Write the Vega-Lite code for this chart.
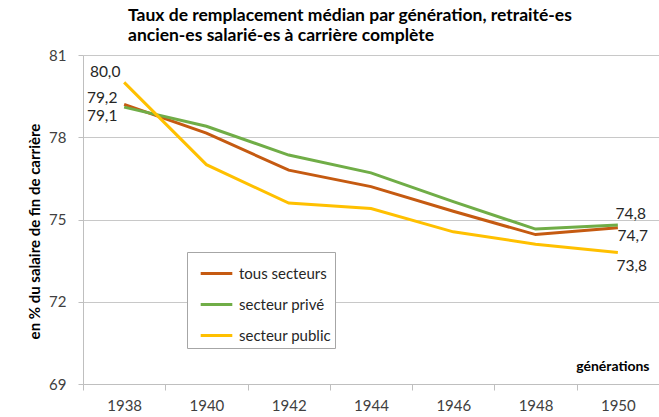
{
  "$schema": "https://vega.github.io/schema/vega-lite/v6.json",
  "width": 576,
  "height": 329,
  "autosize": {"type": "none"},
  "padding": {"left": 83, "top": 55, "right": 0, "bottom": 33},
  "background": "white",
  "config": {
    "font": "Lato",
    "view": {"stroke": null},
    "locale": {"number": {"decimal": ",", "thousands": " ", "grouping": [3], "currency": ["", " €"]}}
  },
  "title": {
    "text": ["Taux de remplacement médian par génération, retraité-es", "ancien-es salarié-es à carrière complète"],
    "anchor": "start",
    "frame": "group",
    "dx": 45,
    "fontSize": 17.5,
    "fontWeight": "bold",
    "font": "Lato",
    "color": "#000000",
    "lineHeight": 20,
    "offset": 4
  },
  "data": {
    "values": [
      {"gen": "1938", "serie": "tous secteurs", "value": 79.2},
      {"gen": "1940", "serie": "tous secteurs", "value": 78.15},
      {"gen": "1942", "serie": "tous secteurs", "value": 76.8},
      {"gen": "1944", "serie": "tous secteurs", "value": 76.2},
      {"gen": "1946", "serie": "tous secteurs", "value": 75.3},
      {"gen": "1948", "serie": "tous secteurs", "value": 74.45},
      {"gen": "1950", "serie": "tous secteurs", "value": 74.7},
      {"gen": "1938", "serie": "secteur privé", "value": 79.1},
      {"gen": "1940", "serie": "secteur privé", "value": 78.4},
      {"gen": "1942", "serie": "secteur privé", "value": 77.35},
      {"gen": "1944", "serie": "secteur privé", "value": 76.7},
      {"gen": "1946", "serie": "secteur privé", "value": 75.65},
      {"gen": "1948", "serie": "secteur privé", "value": 74.65},
      {"gen": "1950", "serie": "secteur privé", "value": 74.8},
      {"gen": "1938", "serie": "secteur public", "value": 80.0},
      {"gen": "1940", "serie": "secteur public", "value": 77.0},
      {"gen": "1942", "serie": "secteur public", "value": 75.6},
      {"gen": "1944", "serie": "secteur public", "value": 75.4},
      {"gen": "1946", "serie": "secteur public", "value": 74.55},
      {"gen": "1948", "serie": "secteur public", "value": 74.1},
      {"gen": "1950", "serie": "secteur public", "value": 73.8}
    ]
  },
  "encoding": {
    "x": {
      "field": "gen",
      "type": "ordinal",
      "scale": {"type": "band", "paddingInner": 0, "paddingOuter": 0},
      "axis": {
        "title": "générations",
        "titleFont": "Lato",
        "titleFontSize": 14,
        "titleFontWeight": "bold",
        "titleColor": "#000000",
        "titleAlign": "right",
        "titleAnchor": "end",
        "titleBaseline": "alphabetic",
        "titleX": 566,
        "titleY": -14,
        "labelAngle": 0,
        "labelFontSize": 15,
        "labelColor": "#404040",
        "labelPadding": 8,
        "tickSize": 6,
        "tickBand": "extent",
        "tickColor": "#bfbfbf",
        "domainColor": "#bfbfbf",
        "grid": false
      }
    },
    "y": {
      "field": "value",
      "type": "quantitative",
      "scale": {"domain": [69, 81], "nice": false, "zero": false},
      "axis": {
        "values": [69, 72, 75, 78, 81],
        "title": "en % du salaire de fin de carrière",
        "titleFont": "Lato",
        "titleFontSize": 15,
        "titleFontWeight": "bold",
        "titleColor": "#000000",
        "titleX": -49,
        "titleY": 176,
        "titleAlign": "center",
        "titleBaseline": "middle",
        "titleAngle": -90,
        "labelFontSize": 15,
        "labelColor": "#404040",
        "labelPadding": 12,
        "tickSize": 5,
        "tickColor": "#bfbfbf",
        "domainColor": "#bfbfbf",
        "grid": true,
        "gridColor": "#c8c8c8"
      }
    }
  },
  "layer": [
    {
      "mark": {"type": "line", "strokeWidth": 3},
      "encoding": {
        "color": {
          "field": "serie",
          "type": "nominal",
          "scale": {
            "domain": ["tous secteurs", "secteur privé", "secteur public"],
            "range": ["#c55a11", "#70ad47", "#ffc000"]
          },
          "legend": {
            "orient": "none",
            "legendX": 104,
            "legendY": 197,
            "title": null,
            "symbolType": "stroke",
            "symbolStrokeWidth": 3,
            "symbolSize": 1000,
            "symbolOffset": 8,
            "rowPadding": 5,
            "padding": 4,
            "labelFontSize": 15,
            "labelColor": "#262626",
            "labelOffset": 5,
            "strokeColor": "#a6a6a6",
            "fillColor": "#ffffff"
          }
        }
      }
    },
    {
      "transform": [{"filter": "datum.gen == '1938' && datum.serie == 'secteur public'"}],
      "mark": {"type": "text", "dx": -19, "dy": -10, "fontSize": 15.5, "color": "#262626"},
      "encoding": {"text": {"field": "value", "type": "quantitative", "format": ".1f"}}
    },
    {
      "transform": [{"filter": "datum.gen == '1938' && datum.serie == 'tous secteurs'"}],
      "mark": {"type": "text", "dx": -22, "dy": -6, "fontSize": 15.5, "color": "#262626"},
      "encoding": {"text": {"field": "value", "type": "quantitative", "format": ".1f"}}
    },
    {
      "transform": [{"filter": "datum.gen == '1938' && datum.serie == 'secteur privé'"}],
      "mark": {"type": "text", "dx": -22, "dy": 9, "fontSize": 15.5, "color": "#262626"},
      "encoding": {"text": {"field": "value", "type": "quantitative", "format": ".1f"}}
    },
    {
      "transform": [{"filter": "datum.gen == '1950' && datum.serie == 'secteur privé'"}],
      "mark": {"type": "text", "dx": 13, "dy": -11, "fontSize": 15.5, "color": "#262626"},
      "encoding": {"text": {"field": "value", "type": "quantitative", "format": ".1f"}}
    },
    {
      "transform": [{"filter": "datum.gen == '1950' && datum.serie == 'tous secteurs'"}],
      "mark": {"type": "text", "dx": 15, "dy": 8, "fontSize": 15.5, "color": "#262626"},
      "encoding": {"text": {"field": "value", "type": "quantitative", "format": ".1f"}}
    },
    {
      "transform": [{"filter": "datum.gen == '1950' && datum.serie == 'secteur public'"}],
      "mark": {"type": "text", "dx": 14, "dy": 14, "fontSize": 15.5, "color": "#262626"},
      "encoding": {"text": {"field": "value", "type": "quantitative", "format": ".1f"}}
    }
  ]
}
